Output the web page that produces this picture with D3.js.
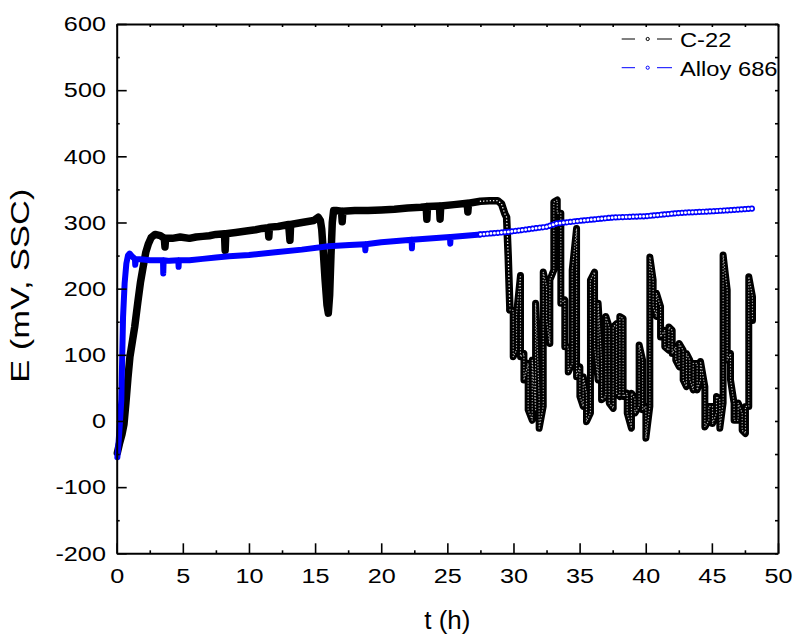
<!DOCTYPE html>
<html><head><meta charset="utf-8">
<script src="https://cdn.jsdelivr.net/npm/d3@7"></script>
<style>body{margin:0;background:#fff}svg{display:block}</style>
</head><body>
<svg id="c" width="797" height="636"></svg>
<script>
// ---- data ----
const c22T = [0.05,0.2,0.4,0.55,0.7,0.85,1.0,1.2,1.36,1.6,1.8,2.0,2.2,2.4,2.6,2.9,3.3,3.6,3.65,3.7,4.2,4.8,5.5,6.0,6.5,7.0,7.5,8.15,8.2,8.25,9.0,9.8,10.5,11.0,11.45,11.5,11.55,12.2,13.0,13.1,13.15,14.0,14.9,15.24,15.4,15.5,15.6,15.75,15.9,16.0,16.1,16.2,16.3,16.4,16.6,17.0,17.05,17.1,18.0,19.0,20.0,21.0,22.0,23.0,23.4,23.45,23.5,24.4,24.45,24.5,25.5,26.5,26.55,26.6,27.5,28.2,28.8,29.1,29.35,29.48,29.6,29.73];
const c22E = [-48,-35,-20,-5,28,65,97,122,142,180,210,233,255,268,277,282,280,276,263,276,276,278,276,278,279,280,282,283,258,283,285,287,289,291,292,278,293,294,297,273,297,300,303,308,303,290,262,215,175,163,190,250,300,318,318,317,301,317,318,318,319,320,322,323,324,305,324,325,305,325,327,329,316,329,332,333,333,328,313,308,250,168];
// oscillating part of C-22: time, upper and lower value of each swing
const oscT  = [29.98,30.23,30.53,30.79,31.11,31.42,31.67,31.94,32.25,32.50,32.75,33.05,33.31,33.58,33.88,34.14,34.44,34.77,35.02,35.27,35.52,35.82,36.13,36.40,36.66,36.98,37.24,37.54,37.79,38.04,38.29,38.60,38.92,39.18,39.50,39.76,40.01,40.31,40.56,40.81,41.12,41.44,41.75,42.00,42.27,42.53,42.83,43.08,43.33,43.59,43.89,44.14,44.47,44.77,45.05,45.35,45.60,45.85,46.16,46.41,46.68,46.99,47.29,47.54,47.79,48.07];
const oscHi = [167,162,220,102,87,92,178,37,225,203,213,331,334,314,183,112,228,291,82,67,42,213,225,178,92,158,142,142,147,158,155,42,42,34,115,92,22,248,213,193,173,137,142,137,112,117,107,102,92,87,87,90,52,22,22,37,32,251,198,102,27,27,12,22,218,188];
const oscLo = [97,107,97,62,17,1,17,-11,22,152,117,228,314,178,112,74,87,67,37,22,-1,12,112,62,32,37,27,19,42,37,37,12,-11,12,22,17,-26,22,173,158,127,112,107,102,92,82,62,52,62,47,47,62,-9,1,-4,12,-11,27,92,62,1,1,-14,-19,22,152];
const a686T = [0.05,0.15,0.25,0.35,0.42,0.48,0.6,0.73,0.85,0.98,1.2,1.38,1.4,1.45,2.0,2.5,3.0,3.5,3.52,3.55,4.0,4.66,4.68,4.7,5.5,6.5,7.5,8.5,10.0,12.0,14.0,16.0,17.6,18.77,18.8,18.83,20.0,22.3,22.32,22.35,25.2,25.22,25.25,27.5];
const a686E = [-55,-30,0,32,100,157,208,238,250,253,248,245,236,245,244,243,243,243,223,243,242,243,233,243,243,245,247,249,251,255,259,264,266,267,258,267,270,274,261,274,278,268,278,282];
const a686SparseT = [27.5,29.7,32.5,33.25,35.0,37.5,40.0,42.6,45.1,48.1];
const a686SparseE = [282,286,293.5,298.5,302.5,307.5,309.5,314.5,317,321];
const xTicks = [0,5,10,15,20,25,30,35,40,45,50];
const xMinor = [2.5,7.5,12.5,17.5,22.5,27.5,32.5,37.5,42.5,47.5];
const yTicks = [-200,-100,0,100,200,300,400,500,600];
const yMinor = [-150,-50,50,150,250,350,450,550];
const seriesNames = ["C-22","Alloy 686"];
const seriesColors = ["#000000","#0000ff"];

// ---- layout ----
const svg = d3.select("#c");
const L = 116.7, T = 24, R = 778, B = 553.3;
const x = d3.scaleLinear().domain([0,50]).range([L,R]);
const y = d3.scaleLinear().domain([-200,600]).range([B,T]);
const SX = 1.2; // horizontal glyph stretch of the reference
const font = "'Liberation Sans', Arial, sans-serif";
const fmt = d => String(d);

const line = d3.line().x(d=>x(d[0])).y(d=>y(d[1]));
const c22Dense = c22T.map((t,i)=>[t,c22E[i]]);
const osc = [c22Dense[c22Dense.length-1]];
let prev = c22E[c22E.length-1];
oscT.forEach((t,i)=>{
  const a=oscHi[i], b=oscLo[i];
  if (Math.abs(a-prev) <= Math.abs(b-prev)) { osc.push([t,a],[t,b]); prev=b; }
  else { osc.push([t,b],[t,a]); prev=a; }
});
const blueDense = a686T.map((t,i)=>[t,a686E[i]]);
const blueSparse = a686SparseT.map((t,i)=>[t,a686SparseE[i]]);

const g = svg.append("g");
// C-22 dense part
g.append("path").attr("d",line(c22Dense)).attr("fill","none").attr("stroke","#000")
  .attr("stroke-width",7.5).attr("stroke-linejoin","round").attr("stroke-linecap","round");
g.append("path").attr("d",line(c22Dense.slice(-8))).attr("fill","none").attr("stroke","#fff")
  .attr("stroke-width",1.4).attr("stroke-dasharray","0.1,3.2").attr("stroke-linecap","round");
// C-22 oscillating part: stacked hollow markers
g.append("path").attr("d",line(osc)).attr("fill","none").attr("stroke","#000")
  .attr("stroke-width",7).attr("stroke-linejoin","round").attr("stroke-linecap","round");
g.append("path").attr("d",line(osc)).attr("fill","none").attr("stroke","#fff")
  .attr("stroke-width",1.3).attr("stroke-dasharray","0.1,2.8").attr("stroke-linecap","round").attr("opacity",0.7);
// Alloy 686
g.append("path").attr("d",line(blueDense)).attr("fill","none").attr("stroke","#0000ff")
  .attr("stroke-width",6).attr("stroke-linejoin","round").attr("stroke-linecap","round");
g.append("path").attr("d",line(blueSparse)).attr("fill","none").attr("stroke","#0000ff")
  .attr("stroke-width",1.2);
g.append("path").attr("d",line(blueSparse)).attr("fill","none").attr("stroke","#0000ff")
  .attr("stroke-width",6.2).attr("stroke-dasharray","0.1,3.4").attr("stroke-linecap","round");
g.append("path").attr("d",line(blueSparse)).attr("fill","none").attr("stroke","#fff")
  .attr("stroke-width",2.8).attr("stroke-dasharray","0.1,3.4").attr("stroke-linecap","round");

// ---- axes ----
function styleAxis(sel){
  sel.select(".domain").attr("stroke","#000").attr("stroke-width",2);
  sel.selectAll(".tick line").attr("stroke","#000").attr("stroke-width",1.6);
}
const ax = svg.append("g").attr("transform",`translate(0,${B})`)
  .call(d3.axisBottom(x).tickValues(xTicks).tickSizeInner(-10).tickSizeOuter(0).tickPadding(15).tickFormat(fmt));
styleAxis(ax);
ax.selectAll("text").attr("font-family",font).attr("font-size",21).attr("fill","#000")
  .attr("transform",`scale(${SX},1)`);
const axm = svg.append("g").attr("transform",`translate(0,${B})`)
  .call(d3.axisBottom(x).tickValues(xMinor).tickSizeInner(-3).tickSizeOuter(0).tickFormat(""));
styleAxis(axm); axm.select(".domain").remove();

const ay = svg.append("g").attr("transform",`translate(${L},0)`)
  .call(d3.axisLeft(y).tickValues(yTicks).tickSizeInner(-10).tickSizeOuter(0).tickPadding(9).tickFormat(fmt));
styleAxis(ay);
ay.selectAll("text").attr("font-family",font).attr("font-size",21).attr("fill","#000")
  .attr("x",-9).attr("transform",`scale(${SX},1)`);
const aym = svg.append("g").attr("transform",`translate(${L},0)`)
  .call(d3.axisLeft(y).tickValues(yMinor).tickSizeInner(-3).tickSizeOuter(0).tickFormat(""));
styleAxis(aym); aym.select(".domain").remove();

const at = svg.append("g").attr("transform",`translate(0,${T})`)
  .call(d3.axisTop(x).tickValues(xTicks.concat(xMinor)).tickSizeInner(-3).tickSizeOuter(0).tickFormat(""));
styleAxis(at);
const ar = svg.append("g").attr("transform",`translate(${R},0)`)
  .call(d3.axisRight(y).tickValues(yTicks.concat(yMinor)).tickSizeInner(-3).tickSizeOuter(0).tickFormat(""));
styleAxis(ar);

// ---- titles ----
svg.append("text").attr("transform",`translate(${(L+R)/2},629)`)
  .attr("text-anchor","middle").attr("font-family",font).attr("font-size",26).text("t (h)");
svg.append("text").attr("transform",`translate(29,${(T+B)/2 - 3}) rotate(-90) scale(1.38,1)`)
  .attr("text-anchor","middle").attr("font-family",font).attr("font-size",25).text("E (mV, SSC)");

// ---- legend ----
const leg = svg.append("g");
[39,67.7].forEach((ly,i)=>{
  leg.append("line").attr("x1",621.7).attr("x2",635).attr("y1",ly).attr("y2",ly).attr("stroke",seriesColors[i]).attr("stroke-width",1);
  leg.append("line").attr("x1",657).attr("x2",672).attr("y1",ly).attr("y2",ly).attr("stroke",seriesColors[i]).attr("stroke-width",1);
  leg.append("circle").attr("cx",647.7).attr("cy",ly).attr("r",1.6).attr("fill","#fff").attr("stroke",seriesColors[i]).attr("stroke-width",1);
  leg.append("text").attr("transform",`translate(680,${ly+8}) scale(1.13,1)`)
    .attr("font-family",font).attr("font-size",21).text(seriesNames[i]);
});
</script>
</body></html>
